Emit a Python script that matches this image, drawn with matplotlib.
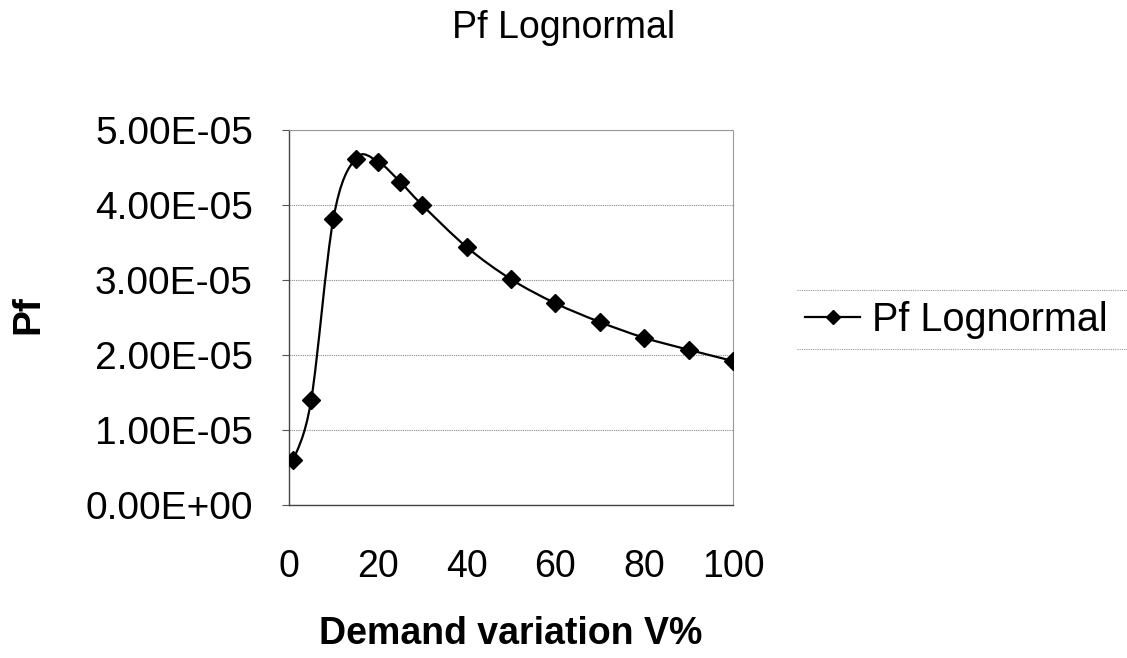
import numpy as np
from matplotlib import pyplot as plt
from matplotlib.path import Path
from matplotlib.patches import PathPatch
from matplotlib.lines import Line2D
from matplotlib.ticker import FuncFormatter

plt.rcParams['font.family'] = ['Liberation Sans', 'DejaVu Sans']

# demand variation V% and probability of failure
variation = [1, 5, 10, 15, 20, 25, 30, 40, 50, 60, 70, 80, 90, 100]
pf_lognormal = [6.0e-6, 1.40e-5, 3.82e-5, 4.62e-5, 4.58e-5, 4.31e-5, 4.00e-5,
                3.44e-5, 3.01e-5, 2.69e-5, 2.44e-5, 2.23e-5, 2.07e-5, 1.92e-5]
x_ticks = [0, 20, 40, 60, 80, 100]
y_ticks = [0, 1e-5, 2e-5, 3e-5, 4e-5, 5e-5]


def smooth_path(xs, ys):
    """
    Build an Excel-style smoothed line (Catmull-Rom as cubic Bezier)
    through the points.
    """
    pts = np.column_stack([xs, ys])
    n = len(pts)
    verts = [pts[0]]
    codes = [Path.MOVETO]
    for i in range(n - 1):
        p_prev = pts[max(i - 1, 0)]
        p0 = pts[i]
        p1 = pts[i + 1]
        p_next = pts[min(i + 2, n - 1)]
        c1 = p0 + (p1 - p_prev) / 6
        c2 = p1 - (p_next - p0) / 6
        verts += [c1, c2, p1]
        codes += [Path.CURVE4] * 3
    return Path(verts, codes)


fig = plt.figure(figsize=(11.27, 6.58), dpi=100)
ax = fig.add_axes([289 / 1127, 1 - 505 / 658, 444 / 1127, 375 / 658])

# smoothed curve plus diamond markers
ax.add_patch(PathPatch(smooth_path(variation, pf_lognormal), facecolor='none',
                       edgecolor='black', lw=1.6, zorder=3))
ax.plot(variation, pf_lognormal, linestyle='none', marker='D',
        color='black', markersize=9, zorder=4)

ax.set_xlim(0, 100)
ax.set_ylim(0, 5e-5)
ax.set_xticks(x_ticks)
ax.set_yticks(y_ticks)
ax.yaxis.set_major_formatter(FuncFormatter(lambda v, p: '%.2E' % v))
ax.tick_params(axis='y', labelsize=28, length=5, width=0.8, pad=21,
               color='#555555')
ax.tick_params(axis='x', labelsize=27, length=0, pad=32)

ax.grid(axis='y', color='#888888', lw=0.8, linestyle=(0, (1, 1)))
ax.set_axisbelow(True)
for side in ['top', 'right']:
    ax.spines[side].set_color('#999999')
    ax.spines[side].set_linestyle((0, (1, 1)))
    ax.spines[side].set_linewidth(0.8)
for side in ['left', 'bottom']:
    ax.spines[side].set_color('#444444')
    ax.spines[side].set_linewidth(1.0)

ax.set_xlabel('Demand variation V%', fontsize=27, fontweight='bold',
              va='center')
ax.xaxis.set_label_coords(0.5, -0.345)
ax.set_ylabel('Pf', fontsize=28, fontweight='bold', va='center')
ax.yaxis.set_label_coords(-0.588, 0.507)

fig.text(0.5, 1 - 28 / 658, 'Pf Lognormal', fontsize=27, ha='center',
         va='center')

# legend with dotted rules above and below, as in the original
handle = Line2D([], [], color='black', lw=1.6, marker='D', markersize=7)
fig.legend([handle], ['Pf Lognormal'], loc='center left',
           bbox_to_anchor=(805 / 1127, 1 - 320 / 658), frameon=False,
           fontsize=28.5, handlelength=1.4, handletextpad=0.3,
           borderaxespad=0, borderpad=0)
for yy in [290, 349]:
    fig.add_artist(Line2D([797 / 1127, 1.0], [1 - yy / 658, 1 - yy / 658],
                          transform=fig.transFigure, color='#999999',
                          lw=0.8, linestyle=(0, (1, 1))))

plt.savefig('out.png', dpi=100)
